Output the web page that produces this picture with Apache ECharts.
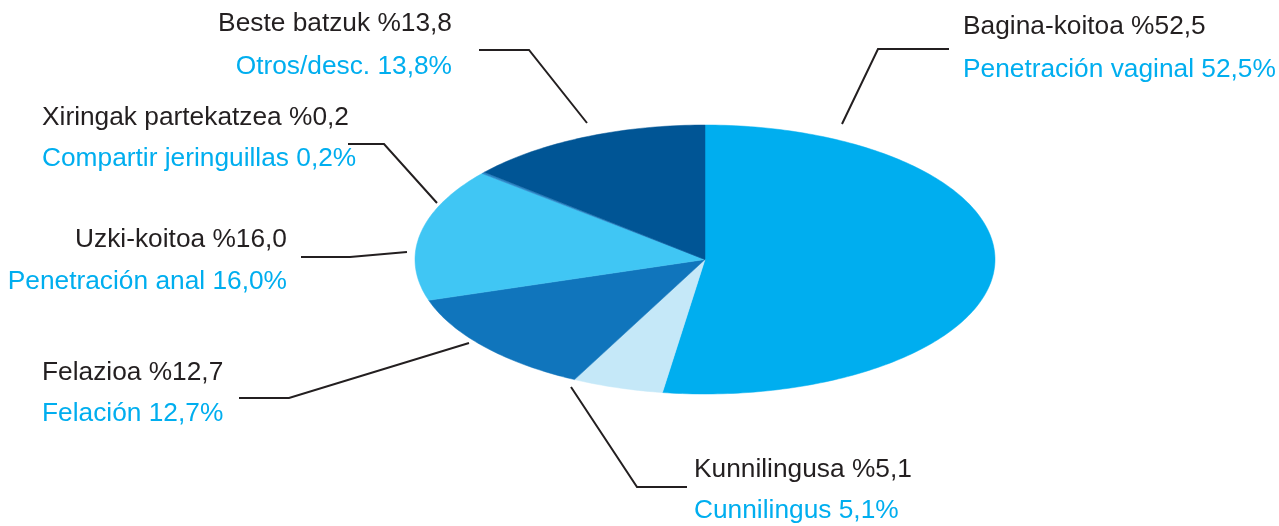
<!DOCTYPE html>
<html>
<head>
<meta charset="utf-8">
<script src="https://cdn.jsdelivr.net/npm/echarts@6/dist/echarts.min.js"></script>
<style>
  html, body { margin: 0; padding: 0; background: #ffffff; }
  #chart { width: 1279px; height: 526px; }
</style>
</head>
<body>
<div id="chart"></div>
<script>
// Slices, clockwise from 12 o'clock
const namesEu = ['Bagina-koitoa', 'Kunnilingusa', 'Felazioa', 'Uzki-koitoa', 'Xiringak partekatzea', 'Beste batzuk'];
const namesEs = ['Penetración vaginal', 'Cunnilingus', 'Felación', 'Penetración anal', 'Compartir jeringuillas', 'Otros/desc.'];
const shares = [52.5, 5.1, 12.7, 16.0, 0.2, 13.8];

const sliceColors = ['#00AEEF', '#C5E8F8', '#1075BC', '#40C6F4', '#2A86C8', '#005595'];
const textDark = '#231F20';
const textBlue = '#00AEEF';
const fontSpec = '26.3px "Liberation Sans", Arial, sans-serif';

// Ellipse geometry (pixels)
const pie = { cx: 705, cy: 259.5, rx: 290, ry: 134.5 };

// Label placement per slice: anchor x, centre y of both lines, alignment, leader polyline
const labelLayout = [
  { x: 963, y1: 26.5, y2: 69.5, align: 'left',  leader: [[949, 49], [878, 49], [842, 124]] },
  { x: 694, y1: 470, y2: 511,   align: 'left',  leader: [[571, 387], [637, 487], [687, 487]] },
  { x: 42,  y1: 373, y2: 414,   align: 'left',  leader: [[469, 343], [289, 398], [239, 398]] },
  { x: 287, y1: 240, y2: 282,   align: 'right', leader: [[407, 252], [350, 257], [301, 257]] },
  { x: 42,  y1: 118, y2: 159,   align: 'left',  leader: [[437, 203], [384, 144], [348, 144]] },
  { x: 452, y1: 24,  y2: 66.5,  align: 'right', leader: [[587, 123], [529, 50], [479, 50]] }
];

const total = shares.reduce((a, b) => a + b, 0);
const cumulative = [0];
shares.forEach((v, i) => cumulative.push(cumulative[i] + v));

const fmt = v => v.toFixed(1).replace('.', ',');

function renderSlice(params, api) {
  const i = params.dataIndex;
  const value = api.value(0);
  const a0 = cumulative[i] / total * Math.PI * 2;
  const a1 = a0 + value / total * Math.PI * 2;
  const steps = Math.max(2, Math.ceil((a1 - a0) / (Math.PI * 2) * 360));
  const points = [[pie.cx, pie.cy]];
  for (let s = 0; s <= steps; s++) {
    const a = a0 + (a1 - a0) * s / steps;
    points.push([pie.cx + pie.rx * Math.sin(a), pie.cy - pie.ry * Math.cos(a)]);
  }
  return {
    type: 'polygon',
    shape: { points: points },
    style: { fill: sliceColors[i], stroke: sliceColors[i], lineWidth: 0.5 }
  };
}

const labelElements = [];
shares.forEach((v, i) => {
  const L = labelLayout[i];
  labelElements.push({
    type: 'polyline',
    silent: true,
    shape: { points: L.leader },
    style: { stroke: textDark, lineWidth: 2, fill: null }
  });
  labelElements.push({
    type: 'text',
    silent: true,
    style: {
      text: namesEu[i] + ' %' + fmt(v),
      x: L.x, y: L.y1, fill: textDark, font: fontSpec,
      align: L.align, verticalAlign: 'middle'
    }
  });
  labelElements.push({
    type: 'text',
    silent: true,
    style: {
      text: namesEs[i] + ' ' + fmt(v) + '%',
      x: L.x, y: L.y2, fill: textBlue, font: fontSpec,
      align: L.align, verticalAlign: 'middle'
    }
  });
});

const chart = echarts.init(document.getElementById('chart'), null, { renderer: 'canvas' });
chart.setOption({
  animation: false,
  backgroundColor: '#ffffff',
  series: [{
    type: 'custom',
    coordinateSystem: 'none',
    data: shares.map((v, i) => [v, i]),
    renderItem: renderSlice
  }],
  graphic: { elements: labelElements }
});
</script>
</body>
</html>
